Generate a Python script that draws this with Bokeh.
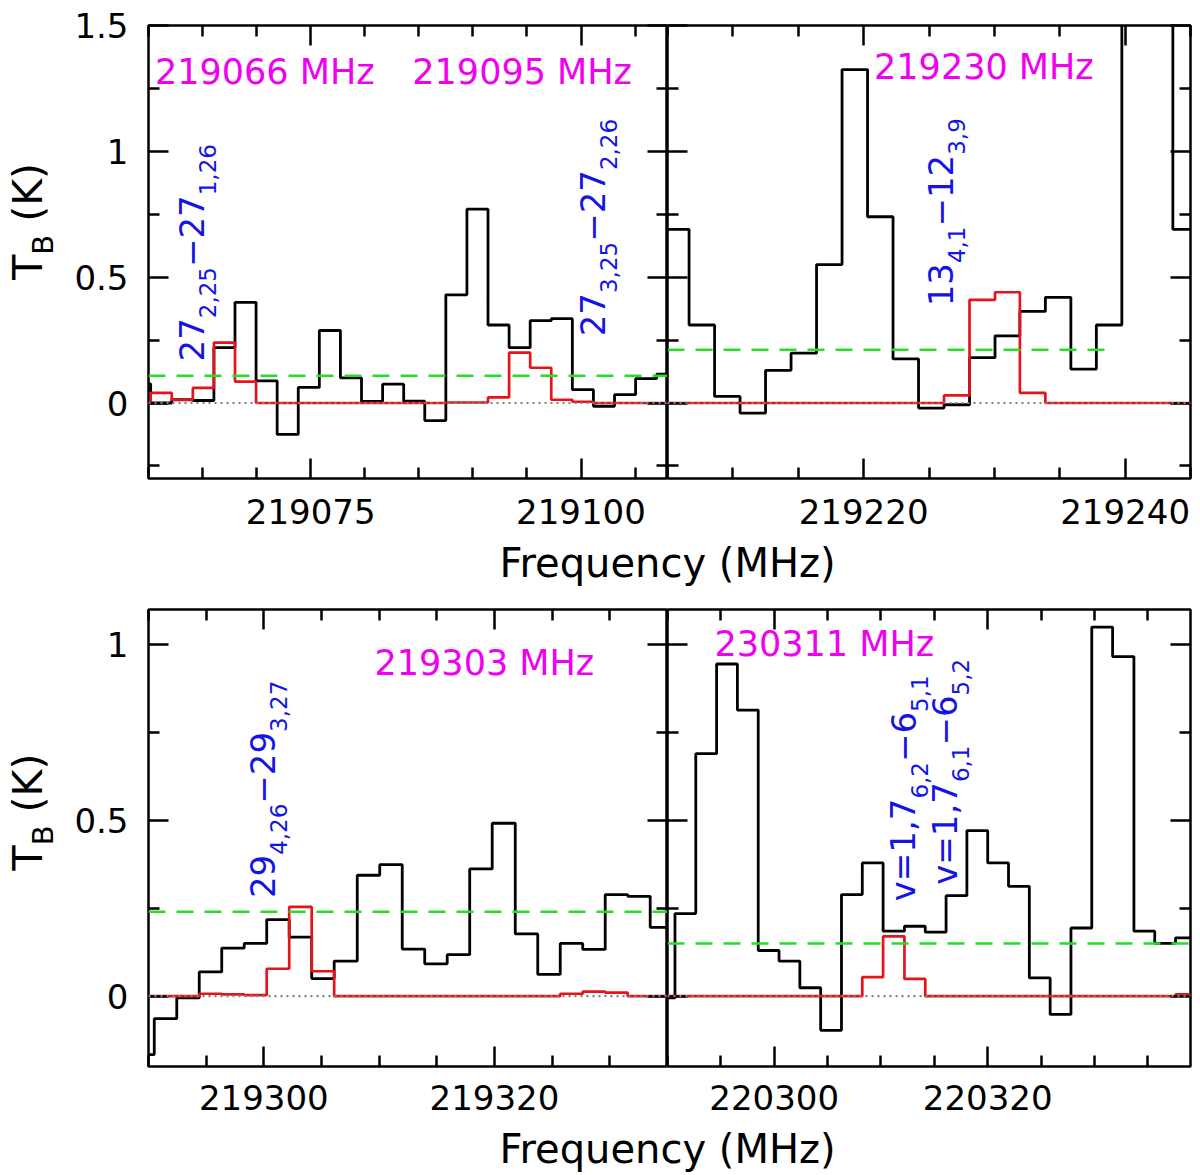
import numpy as np

from bokeh.embed import file_html
from bokeh.layouts import column, row
from bokeh.models import (BasicTickFormatter, FixedTicker, Label, LinearAxis,
                          NumeralTickFormatter, Range1d, Span)
from bokeh.plotting import figure
from bokeh.resources import INLINE

FONT = "DejaVu Sans"
BLUE = "#1414e6"
MAGENTA = "#f000f0"
RED = "#e5141b"
GREEN = "#28dc28"

# ---- top left panel (MHz, K)
freq_tl = [219059.2, 219061.2, 219063.1, 219065.1, 219067.0, 219069.0, 219070.9,
           219072.9, 219074.8, 219076.8, 219078.7, 219080.7, 219082.6, 219084.6,
           219086.5, 219088.5, 219090.4, 219092.4, 219094.3, 219096.3, 219098.2,
           219100.2, 219102.1, 219104.1, 219106.0, 219108.0]
obs_tl = [0.076, 0.0, 0.013, 0.01, 0.22, 0.40, 0.088, -0.125, 0.062, 0.288, 0.10,
          0.006, 0.075, 0.007, -0.07, 0.43, 0.77, 0.31, 0.22, 0.327, 0.335, 0.053,
          -0.013, 0.033, 0.097, 0.115]
model_tl = [0.0, 0.04, 0.013, 0.06, 0.24, 0.085, 0.0, 0.0, 0.0, 0.0, 0.0, 0.0, 0.0,
            0.0, 0.0, 0.002, 0.002, 0.022, 0.20, 0.14, 0.013, 0.005, 0.0, 0.0, 0.0, 0.0]
rms_tl = 0.108

# ---- top right panel
freq_tr = [219205.7, 219207.6, 219209.6, 219211.5, 219213.5, 219215.4, 219217.4,
           219219.3, 219221.3, 219223.2, 219225.2, 219227.1, 219229.1, 219231.0,
           219232.9, 219234.9, 219236.8, 219238.8, 219240.7, 219242.7, 219244.6]
obs_tr = [0.69, 0.31, 0.026, -0.04, 0.13, 0.198, 0.55, 1.325, 0.74, 0.175, -0.02,
          -0.007, 0.18, 0.267, 0.364, 0.42, 0.135, 0.31, 1.9, 2.2, 0.69]
model_tr = [0.0, 0.0, 0.0, 0.0, 0.0, 0.0, 0.0, 0.0, 0.0, 0.0, 0.0, 0.03, 0.41, 0.44,
            0.04, 0.0, 0.0, 0.0, 0.0, 0.0, 0.0]
rms_tr = 0.212
rms_tr_span = [219205, 219239]

# ---- bottom left panel
freq_bl = [219289.5, 219291.5, 219293.4, 219295.4, 219297.3, 219299.3, 219301.2,
           219303.2, 219305.1, 219307.1, 219309.1, 219311.0, 219313.0, 219314.9,
           219316.9, 219318.8, 219320.8, 219322.8, 219324.7, 219326.7, 219328.6,
           219330.6, 219332.5, 219334.5]
obs_bl = [-0.166, -0.064, -0.005, 0.069, 0.137, 0.15, 0.218, 0.168, 0.05, 0.10, 0.344,
          0.374, 0.134, 0.092, 0.118, 0.362, 0.492, 0.177, 0.062, 0.15, 0.133, 0.289,
          0.284, 0.196]
model_bl = [0.0, 0.0, 0.0, 0.007, 0.005, 0.003, 0.078, 0.254, 0.071, 0.0, 0.0, 0.0,
            0.0, 0.0, 0.0, 0.0, 0.0, 0.0, 0.0, 0.007, 0.013, 0.01, 0.0, 0.0]
rms_bl = 0.24

# ---- bottom right panel
freq_br = [220289.7, 220291.7, 220293.6, 220295.6, 220297.5, 220299.5, 220301.4,
           220303.4, 220305.3, 220307.3, 220309.2, 220311.2, 220313.2, 220315.1,
           220317.1, 220319.0, 220321.0, 220322.9, 220324.9, 220326.8, 220328.8,
           220330.7, 220332.7, 220334.7, 220336.6, 220338.6]
obs_br = [-0.005, 0.235, 0.69, 0.945, 0.814, 0.13, 0.10, 0.024, -0.097, 0.289, 0.379,
          0.185, 0.199, 0.182, 0.286, 0.471, 0.379, 0.3125, 0.052, -0.052, 0.194, 1.05,
          0.966, 0.185, 0.15, 0.166]
model_br = [0.0, 0.0, 0.0, 0.0, 0.0, 0.0, 0.0, 0.0, 0.0, 0.0, 0.054, 0.17, 0.049, 0.0,
            0.0, 0.0, 0.0, 0.0, 0.0, 0.0, 0.0, 0.0, 0.0, 0.0, 0.0, 0.005]
rms_br = 0.15

# ticks
xmaj_tl, xmin_tl = [219075, 219100], [219060, 219065, 219070, 219080, 219085, 219090, 219095, 219105]
xmaj_tr, xmin_tr = [219220, 219240], [219205, 219210, 219215, 219225, 219230, 219235, 219245]
xmaj_bl, xmin_bl = [219300, 219320], [219290, 219295, 219305, 219310, 219315, 219325, 219330, 219335]
xmaj_br, xmin_br = [220300, 220320], [220290, 220295, 220305, 220310, 220315, 220325, 220330, 220335]
ymaj_top, ymin_top = [0, 0.5, 1, 1.5], [-0.25, 0.25, 0.75, 1.25]
ymaj_bot, ymin_bot = [0, 0.5, 1], [0.25, 0.75]

# line labels: (text, is_subscript)
lab_tl1 = [("27", 0), ("2,25", 1), ("\u221227", 0), ("1,26", 1)]
lab_tl2 = [("27", 0), ("3,25", 1), ("\u221227", 0), ("2,26", 1)]
lab_tr = [("13", 0), ("4,1", 1), ("\u221212", 0), ("3,9", 1)]
lab_bl = [("29", 0), ("4,26", 1), ("\u221229", 0), ("3,27", 1)]
lab_br1 = [("v=1,7", 0), ("6,2", 1), ("\u22126", 0), ("5,1", 1)]
lab_br2 = [("v=1,7", 0), ("6,1", 1), ("\u22126", 0), ("5,2", 1)]
lab_tb = [("T", 0), ("B", 1), ("\u00a0(K)", 0)]

# DejaVu Sans advance widths (em)
ADV = {",": 0.318, "\u2212": 0.838, "v": 0.592, "=": 0.838, "T": 0.611, "B": 0.686,
       "\u00a0": 0.318, "(": 0.390, ")": 0.390, "K": 0.656}


def text_len(s, size):
    return sum(ADV.get(c, 0.636) for c in s) * size


def step_xy(freq, vals):
    f = np.asarray(freq, dtype=float)
    mid = (f[:-1] + f[1:]) / 2
    edges = np.concatenate([[2 * f[0] - mid[0]], mid, [2 * f[-1] - mid[-1]]])
    return np.repeat(edges, 2)[1:-1], np.repeat(np.asarray(vals, dtype=float), 2)


def style_axis(ax, show, standoff=20):
    ax.axis_line_color = None
    ax.major_tick_in, ax.major_tick_out = 20, 0
    ax.minor_tick_in, ax.minor_tick_out = 11, 0
    ax.major_tick_line_width = 2.5
    ax.minor_tick_line_width = 2.5
    ax.major_tick_line_color = "black"
    ax.minor_tick_line_color = "black"
    if show:
        ax.major_label_text_font = FONT
        ax.major_label_text_font_size = "34px"
        ax.major_label_text_color = "black"
        ax.major_label_standoff = standoff
    else:
        ax.major_label_text_color = None
        ax.major_label_text_font_size = "0px"
        ax.major_label_standoff = 0


def panel(xr, yr, xmaj, xmin, ymaj, ymin, fw, fh, borders, ylabels, xstandoff):
    left, right, top, bottom = borders
    p = figure(frame_width=fw, frame_height=fh, x_range=Range1d(*xr), y_range=Range1d(*yr),
               toolbar_location=None, output_backend="svg", x_axis_type=None, y_axis_type=None,
               min_border_left=left, min_border_right=right, min_border_top=top,
               min_border_bottom=bottom)
    p.outline_line_color = "black"
    p.outline_line_width = 2.5
    xt = FixedTicker(ticks=xmaj, minor_ticks=xmin)
    yt = FixedTicker(ticks=ymaj, minor_ticks=ymin)
    for side in ("below", "above"):
        ax = LinearAxis(ticker=xt, formatter=BasicTickFormatter(use_scientific=False))
        style_axis(ax, side == "below", xstandoff)
        p.add_layout(ax, side)
    for side in ("left", "right"):
        ax = LinearAxis(ticker=yt, formatter=NumeralTickFormatter(format="0.[0]"))
        style_axis(ax, side == "left" and ylabels, 20)
        p.add_layout(ax, side)
    return p


def blank(w, h):
    s = figure(width=w, height=h, x_range=Range1d(0, w), y_range=Range1d(0, h),
               toolbar_location=None, output_backend="svg", x_axis_type=None,
               y_axis_type=None, min_border=0)
    s.outline_line_color = None
    return s


def draw(p, freq, obs, model, rms, rms_x=None):
    xs, ys = step_xy(freq, obs)
    p.line(xs, ys, line_color="black", line_width=2.8)
    xs, ys = step_xy(freq, model)
    p.line(xs, ys, line_color=RED, line_width=2.7)
    p.add_layout(Span(location=0, dimension="width", line_color="#808080",
                      line_width=2.2, line_dash="2 4"))
    if rms_x is None:
        p.add_layout(Span(location=rms, dimension="width", line_color=GREEN,
                          line_width=2.5, line_dash="17 11"))
    else:
        p.line(rms_x, [rms, rms], line_color=GREEN, line_width=2.5, line_dash="17 11")


def freq_label(p, x, y, txt):
    p.add_layout(Label(x=x, y=y, text=txt, text_font=FONT, text_font_size="35px",
                       text_color=MAGENTA, text_baseline="middle", text_align="left"))


def rot_label(p, x, y, pieces, size=34, sub=23, main_dx=-12, sub_dx=4, color=BLUE):
    pos = 0.0
    for txt, is_sub in pieces:
        fs = sub if is_sub else size
        p.add_layout(Label(x=x, y=y, x_offset=sub_dx if is_sub else main_dx,
                           y_offset=pos, text=txt, angle=90, angle_units="deg",
                           text_font=FONT, text_font_size=f"{fs}px", text_color=color,
                           text_baseline="middle", text_align="left"))
        pos += text_len(txt, fs)


# frames: top row y 25..478, bottom row y 609..1066; columns x 148..667..1190
tl = panel((219060, 219108), (-0.3, 1.5), xmaj_tl, xmin_tl, ymaj_top, ymin_top,
           519, 453, (88, 0, 25, 60), True, 20)
tr = panel((219205, 219245), (-0.3, 1.5), xmaj_tr, xmin_tr, ymaj_top, ymin_top,
           523, 453, (0, 10, 25, 60), False, 20)
bl = panel((219290, 219335), (-0.2, 1.1), xmaj_bl, xmin_bl, ymaj_bot, ymin_bot,
           519, 457, (88, 0, 14, 58), True, 18)
br = panel((220290, 220339), (-0.2, 1.1), xmaj_br, xmin_br, ymaj_bot, ymin_bot,
           523, 457, (0, 10, 14, 58), False, 18)

draw(tl, freq_tl, obs_tl, model_tl, rms_tl)
draw(tr, freq_tr, obs_tr, model_tr, rms_tr, rms_tr_span)
draw(bl, freq_bl, obs_bl, model_bl, rms_bl)
draw(br, freq_br, obs_br, model_br, rms_br)

freq_label(tl, 219060.6, 1.314, "219066 MHz")
freq_label(tl, 219084.4, 1.314, "219095 MHz")
freq_label(tr, 219220.8, 1.335, "219230 MHz")
freq_label(bl, 219309.6, 0.949, "219303 MHz")
freq_label(br, 220294.4, 1.001, "230311 MHz")

rot_label(tl, 219065.1, 0.165, lab_tl1)
rot_label(tl, 219102.2, 0.265, lab_tl2)
rot_label(tr, 219226.8, 0.384, lab_tr)
rot_label(bl, 219300.9, 0.279, lab_bl)
rot_label(br, 220313.2, 0.27, lab_br1)
rot_label(br, 220317.1, 0.317, lab_br2)

# y axis titles live in narrow strips left of the panels
ytitle_top = blank(60, 538)
ytitle_bot = blank(60, 529)
rot_label(ytitle_top, 42, 236, lab_tb, size=41, sub=29, main_dx=-15, sub_dx=0.5, color="black")
rot_label(ytitle_bot, 42, 227, lab_tb, size=41, sub=29, main_dx=-15, sub_dx=0.5, color="black")

# x axis titles centred on the shared panel border
xtitle_top = blank(1200, 57)
xtitle_bot = blank(1200, 50)
for s, yc in ((xtitle_top, 33), (xtitle_bot, 26)):
    s.add_layout(Label(x=667, y=yc, text="Frequency (MHz)", text_font=FONT,
                       text_font_size="40px", text_color="black",
                       text_align="center", text_baseline="middle"))

page = column(row(ytitle_top, tl, tr), xtitle_top, row(ytitle_bot, bl, br), xtitle_bot)

open("out.html", "w").write(file_html(page, INLINE))
